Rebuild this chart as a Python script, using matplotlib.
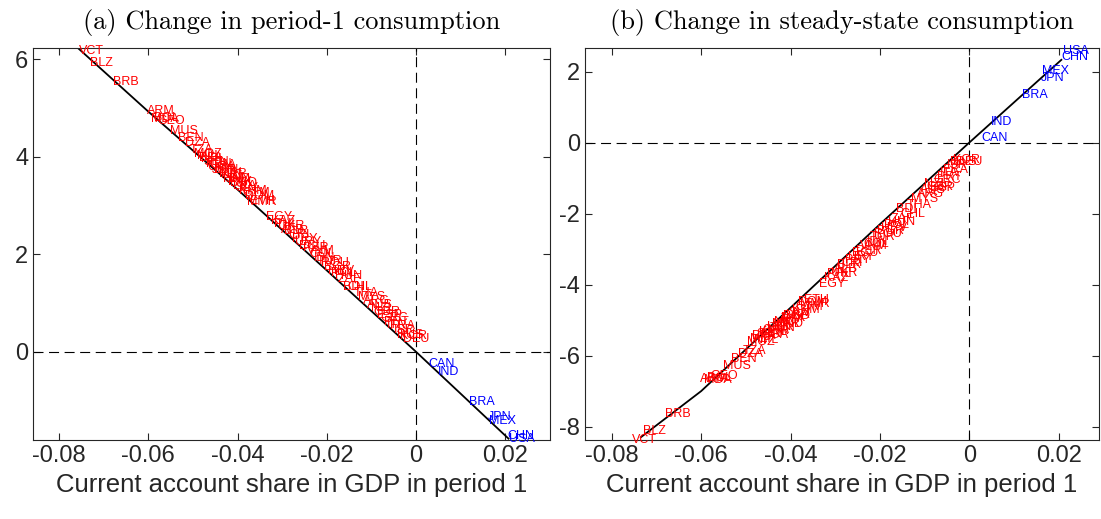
import matplotlib
matplotlib.use('Agg')
import matplotlib.pyplot as plt

plt.rcParams['font.family'] = ['Liberation Sans', 'DejaVu Sans']
plt.rcParams['axes.unicode_minus'] = False

# country codes and current account share in period 1
codes = ['VCT', 'BLZ', 'BRB', 'ARM', 'MDA', 'BOL', 'GEO', 'MUS', 'BEN', 'DZA',
         'TZA', 'MOZ', 'MLI', 'BFA', 'NPL', 'SEN', 'KEN', 'UGA', 'GHA', 'JOR',
         'LBN', 'TUN', 'MAR', 'NIC', 'HND', 'JAM', 'PAK', 'BGD', 'LKA', 'SLV',
         'KHM', 'GTM', 'DOM', 'MMR', 'ETH', 'EGY', 'KAZ', 'PHL', 'UKR', 'ALB',
         'BLR', 'CRI', 'PRY', 'URY', 'ECU', 'PER', 'VNM', 'COL', 'IDN', 'TUR',
         'ROU', 'BGR', 'HRV', 'POL', 'HUN', 'ZAF', 'BDI', 'CHL', 'THA', 'MYS',
         'ARG', 'AUS', 'NZL', 'GBR', 'ESP', 'GRC', 'PRT', 'ITA', 'FRA', 'ISR',
         'RUS', 'KOR', 'DEU', 'CAN', 'IND', 'BRA', 'JPN', 'MEX', 'CHN', 'USA']

ca1 = [-0.0756, -0.0730, -0.0680, -0.0602, -0.0594, -0.0587, -0.0580, -0.0551, -0.0534, -0.0518,
       -0.0506, -0.0498, -0.0491, -0.0486, -0.0481, -0.0476, -0.0471, -0.0466, -0.0462, -0.0457,
       -0.0452, -0.0447, -0.0442, -0.0437, -0.0432, -0.0427, -0.0422, -0.0417, -0.0411, -0.0404,
       -0.0397, -0.0390, -0.0384, -0.0379, -0.0371, -0.0336, -0.0326, -0.0318, -0.0310, -0.0302,
       -0.0295, -0.0287, -0.0279, -0.0271, -0.0262, -0.0254, -0.0245, -0.0238, -0.0230, -0.0222,
       -0.0214, -0.0206, -0.0198, -0.0190, -0.0182, -0.0175, -0.0163, -0.0155, -0.0140, -0.0130,
       -0.0118, -0.0110, -0.0102, -0.0095, -0.0088, -0.0080, -0.0072, -0.0065, -0.0058, -0.0050,
       -0.0043, -0.0036, -0.0030, 0.0028, 0.0049, 0.0119, 0.0160, 0.0163, 0.0205, 0.0209]

# (a) change in period-1 consumption
dc_p1 = [6.18, 5.92, 5.53, 4.94, 4.78, 4.80, 4.74, 4.53, 4.38, 4.28,
         4.14, 4.06, 4.01, 3.98, 3.95, 3.90, 3.86, 3.80, 3.84, 3.74,
         3.72, 3.67, 3.64, 3.62, 3.55, 3.55, 3.48, 3.46, 3.40, 3.36,
         3.30, 3.25, 3.20, 3.08, 3.10, 2.76, 2.68, 2.63, 2.58, 2.50,
         2.47, 2.40, 2.32, 2.26, 2.18, 2.13, 2.06, 2.00, 1.93, 1.86,
         1.82, 1.74, 1.66, 1.62, 1.55, 1.50, 1.33, 1.34, 1.20, 1.12,
         1.05, 0.96, 0.90, 0.82, 0.76, 0.70, 0.62, 0.56, 0.53, 0.45,
         0.34, 0.32, 0.27, -0.25, -0.41, -1.03, -1.34, -1.42, -1.73, -1.78]

# (b) change in steady-state consumption
dc_ss = [-8.39, -8.13, -7.64, -6.65, -6.70, -6.62, -6.58, -6.28, -6.10, -5.95,
         -5.88, -5.62, -5.52, -5.45, -5.56, -5.40, -5.34, -5.42, -5.27, -5.30,
         -5.19, -5.22, -5.12, -5.04, -5.10, -4.98, -4.95, -4.89, -4.85, -4.79,
         -4.72, -4.62, -4.50, -4.55, -4.44, -3.97, -3.82, -3.70, -3.66, -3.55,
         -3.45, -3.40, -3.30, -3.21, -3.12, -3.05, -2.91, -2.85, -2.80, -2.65,
         -2.58, -2.50, -2.41, -2.33, -2.25, -2.15, -1.86, -2.00, -1.75, -1.60,
         -1.46, -1.35, -1.18, -1.24, -1.29, -1.05, -0.98, -0.85, -0.78, -0.62,
         -0.56, -0.48, -0.55, 0.12, 0.59, 1.34, 1.83, 2.02, 2.40, 2.58]

# black reference curves
lineA_x = [-0.0756, -0.06, -0.04, -0.02, 0.0, 0.0207]
lineA_y = [6.22, 4.93, 3.33, 1.67, 0.0, -1.78]
lineB_x = [-0.0735, -0.06, -0.04, -0.02, 0.0, 0.0206]
lineB_y = [-8.30, -7.00, -4.65, -2.30, 0.0, 2.33]

xticks = [-0.08, -0.06, -0.04, -0.02, 0, 0.02]
xticklabels = ['-0.08', '-0.06', '-0.04', '-0.02', '0', '0.02']

fig = plt.figure(figsize=(11.01, 5.19), dpi=100)
axA = fig.add_axes([0.030, 0.152, 0.4696, 0.7553])
axB = fig.add_axes([0.5313, 0.152, 0.4668, 0.7553])

paneles = [
    (axA, dc_p1, lineA_x, lineA_y, '(a) Change in period-1 consumption', (-0.0858, 0.0300), (-1.81, 6.23), [0, 2, 4, 6]),
    (axB, dc_ss, lineB_x, lineB_y, '(b) Change in steady-state consumption', (-0.0860, 0.0290), (-8.38, 2.66), [-8, -6, -4, -2, 0, 2]),
]

for ax, Y, lx, ly, titulo, xl, yl, yt in paneles:
    ax.axhline(0, color='k', lw=0.8, ls=(0, (9, 5)))
    ax.axvline(0, color='k', lw=0.8, ls=(0, (9, 5)))
    ax.plot(lx, ly, color='k', lw=1.3)

    # etiquetas de paises
    for c, x, y in zip(codes, ca1, Y):
        col = 'b' if x > 0 else 'r'
        ax.text(x, y, c, color=col, fontsize=9, ha='left', va='center', clip_on=False)

    ax.set_xlim(*xl)
    ax.set_ylim(*yl)
    ax.set_xticks(xticks)
    ax.set_xticklabels(xticklabels)
    ax.set_yticks(yt)
    ax.set_yticklabels([str(v) for v in yt])
    ax.tick_params(direction='in', length=5, top=True, right=True, labelsize=17,
                   colors='#262626', width=0.8)
    for s in ax.spines.values():
        s.set_color('#262626')
        s.set_linewidth(0.8)
    ax.set_xlabel('Current account share in GDP in period 1', fontsize=18.5, color='#262626')
    ax.set_title(titulo, fontsize=19, family='cmr10', pad=14)

fig.savefig('out.png', dpi=100)
